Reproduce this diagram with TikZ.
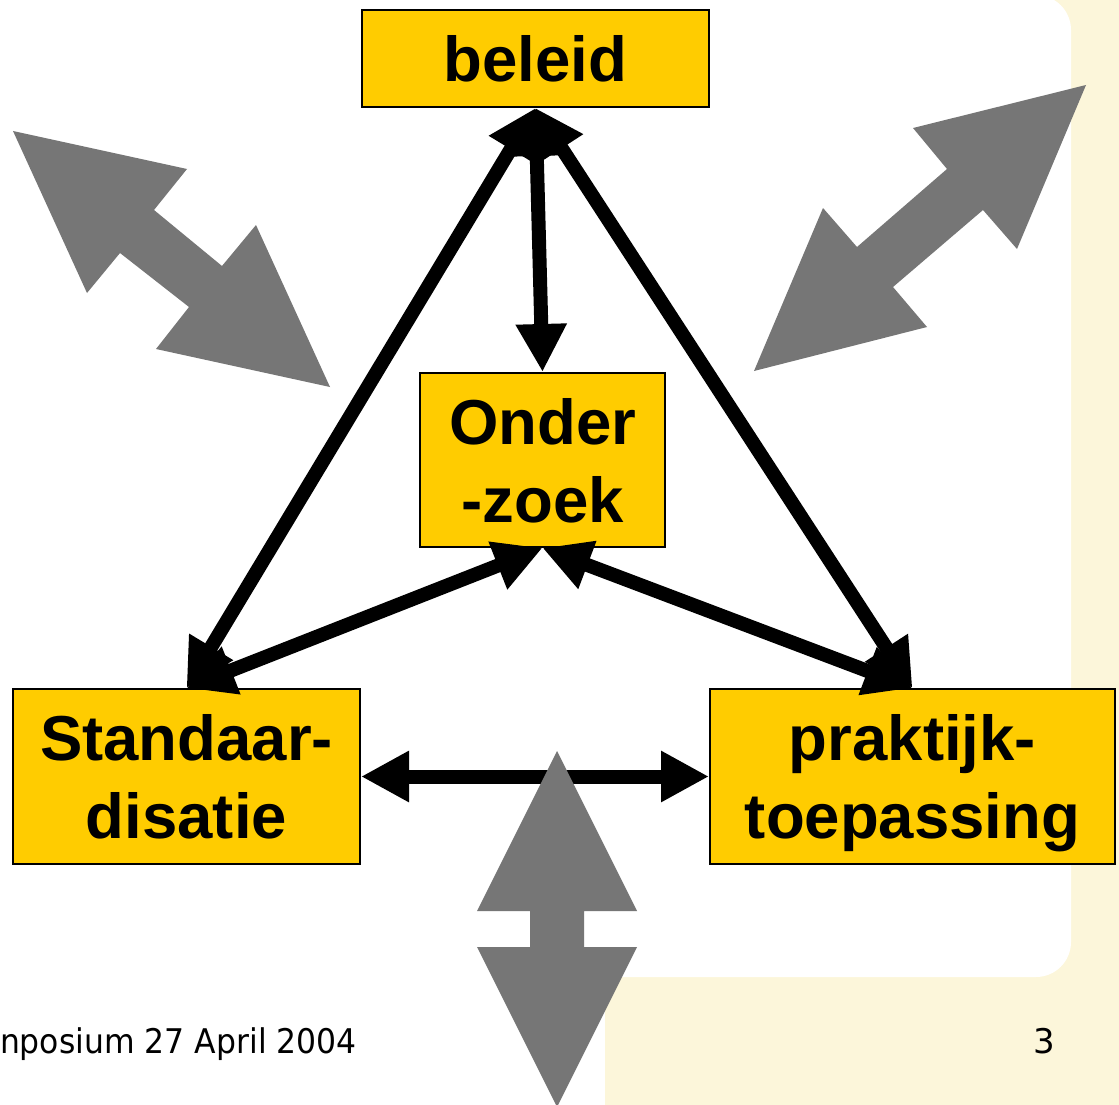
\documentclass[tikz,border=0pt]{standalone}
\usepackage{fontspec}
\setmainfont{Liberation Sans}
\newfontfamily\footfont{DejaVu Sans}
\usetikzlibrary{arrows.meta}
\definecolor{boxyellow}{HTML}{FFCC00}
\definecolor{slidecream}{HTML}{FCF6DA}
\definecolor{arrowgray}{HTML}{767676}

\tikzset{
  topic/.style={draw=black, line width=2pt, fill=boxyellow, inner sep=0pt, align=center,
    text depth=0pt, font=\fontsize{63.5}{78}\selectfont\bfseries},
  link/.style={line width=14pt,
    {Triangle[length=48pt,width=48pt]}-{Triangle[length=48pt,width=48pt]}},
  bigarrow/.style={fill=arrowgray},
  foot/.style={font=\fontsize{34}{40}\selectfont\footfont, inner sep=0pt}
}

\begin{document}
\begin{tikzpicture}[x=1pt, y=-1pt]
\useasboundingbox (0,0) rectangle (1119,1105);
% slide background
\fill[slidecream] (0,0) rectangle (1119,1105);
\fill[white, rounded corners=35pt] (-60,-5) -- (1071,-5) -- (1071,977) -- (-60,977) -- cycle;
\fill[white] (0,900) rectangle (605,1105);

\node[topic, minimum width=347pt, minimum height=97pt] (beleid) at (535.5,58.5) {beleid};
\node[topic, minimum width=245pt, minimum height=174pt] (onderzoek) at (542.5,460) {Onder\\-zoek};
\node[topic, minimum width=347pt, minimum height=175pt] (standaard) at (186.5,776.5) {Standaar-\\disatie};
\node[topic, minimum width=405pt, minimum height=175pt] (praktijk) at (912.5,776.5) {praktijk-\\toepassing};

\draw[link] (beleid.south) -- (standaard.north);
\draw[link] (beleid.south) -- (onderzoek.north);
\draw[link] (beleid.south) -- (praktijk.north);
\draw[link] (onderzoek.south) -- (standaard.north);
\draw[link] (onderzoek.south) -- (praktijk.north);
\draw[link] (standaard.east) -- (praktijk.west);

% grey double arrows
\fill[bigarrow] (13,131) -- (187,169) -- (154,210) -- (222,266) -- (256,225) -- (330,387)
  -- (156,349) -- (189,307) -- (120,253) -- (87,293) -- cycle;
\fill[bigarrow] (1086,85) -- (913,128) -- (947,169) -- (857,247) -- (823,208) -- (754,371)
  -- (927,327) -- (893,287) -- (983,210) -- (1017,249) -- cycle;
\fill[bigarrow] (557,751) -- (637,911) -- (584,911) -- (584,947) -- (637,947) -- (557,1107)
  -- (477,947) -- (530,947) -- (530,911) -- (477,911) -- cycle;

\node[foot, anchor=base east, xscale=0.925] (footer) at (357,1053) {nposium 27 April 2004};
\node[foot, anchor=base] (pagenr) at (1044,1053) {3};
\end{tikzpicture}
\end{document}
